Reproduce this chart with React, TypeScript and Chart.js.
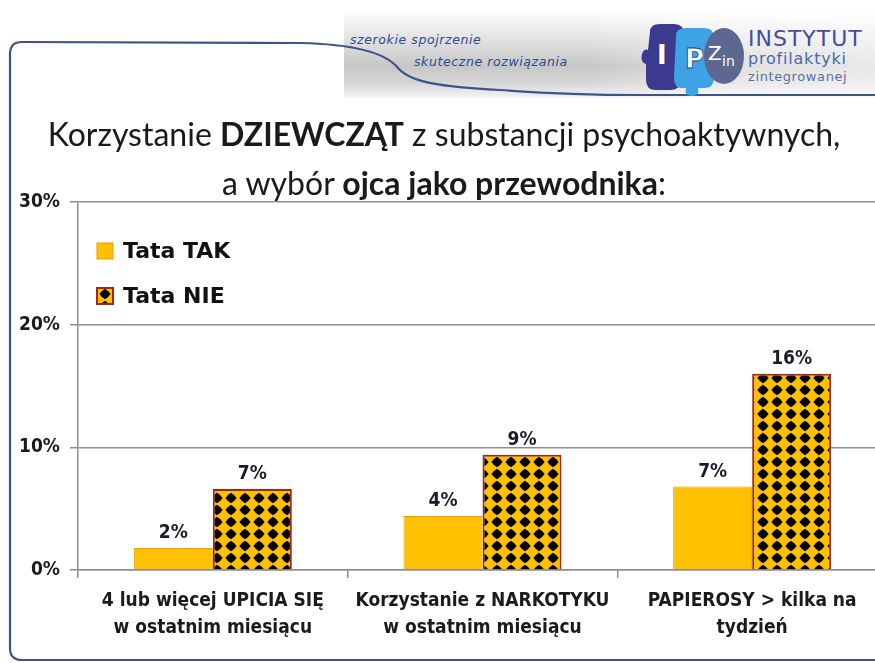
import React, { useEffect, useRef } from "react";
import { Chart, registerables } from "chart.js";

Chart.register(...registerables);

// ---- data ----
const categories: string[][] = [
  ["4 lub więcej UPICIA SIĘ", "w ostatnim miesiącu"],
  ["Korzystanie z NARKOTYKU", "w ostatnim miesiącu"],
  ["PAPIEROSY > kilka na", "tydzień"],
];
const seriesNames = ["Tata TAK", "Tata NIE"];
const tataTak = [1.8, 4.4, 6.8];
const tataNie = [6.6, 9.4, 16.0];
const yMin = 0;
const yMax = 30;
const yStep = 10;

const AXIS_FONT = '"Liberation Sans Narrow", "DejaVu Sans Condensed", sans-serif';
const LEGEND_FONT = '"DejaVu Sans", Verdana, sans-serif';
const YELLOW = "#FFC000";
const GRID = "#8e8e8e";

function makeDiamondPattern(ctx: CanvasRenderingContext2D) {
  const c = document.createElement("canvas");
  const w = 14;
  const h = 12;
  c.width = w;
  c.height = h;
  const g = c.getContext("2d")!;
  g.fillStyle = YELLOW;
  g.fillRect(0, 0, w, h);
  g.fillStyle = "#000";
  const cx = w / 2;
  const cy = h / 2;
  const rx = 5.6;
  const ry = 5.2;
  g.beginPath();
  g.moveTo(cx, cy - ry);
  g.quadraticCurveTo(cx + rx * 0.62, cy - ry * 0.62, cx + rx, cy);
  g.quadraticCurveTo(cx + rx * 0.62, cy + ry * 0.62, cx, cy + ry);
  g.quadraticCurveTo(cx - rx * 0.62, cy + ry * 0.62, cx - rx, cy);
  g.quadraticCurveTo(cx - rx * 0.62, cy - ry * 0.62, cx, cy - ry);
  g.closePath();
  g.fill();
  return ctx.createPattern(c, "repeat")!;
}

const valueLabels = {
  id: "valueLabels",
  afterDatasetsDraw(chart: any) {
    const ctx = chart.ctx as CanvasRenderingContext2D;
    chart.data.datasets.forEach((ds: any, i: number) => {
      const meta = chart.getDatasetMeta(i);
      meta.data.forEach((bar: any, j: number) => {
        const v = ds.data[j] as number;
        ctx.save();
        ctx.font = `bold 19px ${AXIS_FONT}`;
        ctx.fillStyle = "#1b1b2b";
        ctx.textAlign = "center";
        ctx.textBaseline = "middle";
        ctx.fillText(Math.round(v) + "%", bar.x, bar.y - 15);
        ctx.restore();
      });
    });
  },
};

const insideLegend = {
  id: "insideLegend",
  afterDraw(chart: any) {
    const ctx = chart.ctx as CanvasRenderingContext2D;
    const { left, top } = chart.chartArea;
    chart.data.datasets.forEach((ds: any, i: number) => {
      const bx = left + 19;
      const by = top + 41 + i * 45;
      const size = 16;
      ctx.save();
      ctx.fillStyle = ds.backgroundColor;
      ctx.fillRect(bx, by, size, size);
      ctx.strokeStyle = ds.borderColor;
      ctx.lineWidth = i === 0 ? 1 : 2;
      ctx.strokeRect(bx, by, size, size);
      ctx.font = `bold 22px ${LEGEND_FONT}`;
      ctx.fillStyle = "#111";
      ctx.textAlign = "left";
      ctx.textBaseline = "middle";
      ctx.fillText(ds.label, left + 45, by + size / 2 + 1);
      ctx.restore();
    });
  },
};

function BarChart() {
  const ref = useRef<HTMLCanvasElement | null>(null);
  useEffect(() => {
    const canvas = ref.current!;
    const ctx = canvas.getContext("2d")!;
    const pattern = makeDiamondPattern(ctx);
    const chart = new Chart(ctx, {
      type: "bar",
      data: {
        labels: categories,
        datasets: [
          {
            label: seriesNames[0],
            data: tataTak,
            backgroundColor: YELLOW,
            borderColor: "#F29A00",
            borderWidth: 1,
            categoryPercentage: 0.586,
            barPercentage: 1,
          },
          {
            label: seriesNames[1],
            data: tataNie,
            backgroundColor: pattern as any,
            borderColor: "#A3261B",
            borderWidth: 2,
            categoryPercentage: 0.586,
            barPercentage: 1,
          },
        ],
      },
      options: {
        animation: false,
        responsive: false,
        maintainAspectRatio: false,
        layout: { padding: { left: 0, top: 202, right: 13, bottom: 0 } },
        plugins: {
          legend: { display: false },
          title: { display: false },
          tooltip: { enabled: false },
        },
        scales: {
          x: {
            grid: {
              offset: true,
              drawOnChartArea: false,
              drawTicks: true,
              tickLength: 8,
              color: GRID,
              lineWidth: 1.5,
            },
            border: { color: GRID, width: 1.5 },
            ticks: {
              font: { family: AXIS_FONT, size: 19, weight: "bold", lineHeight: 1.4 },
              color: "#1b1b1b",
              padding: 10,
              maxRotation: 0,
              autoSkip: false,
            },
            afterFit: (s: any) => {
              s.height = 93;
            },
          },
          y: {
            min: yMin,
            max: yMax,
            ticks: {
              stepSize: yStep,
              callback: (v: any) => v + "%",
              font: { family: AXIS_FONT, size: 19, weight: "bold" },
              color: "#1b1b1b",
              padding: 10,
            },
            grid: { color: GRID, lineWidth: 1.5, tickLength: 8, drawTicks: true },
            border: { color: GRID, width: 1.5 },
            afterFit: (s: any) => {
              s.width = 78;
            },
          },
        },
      },
      plugins: [valueLabels, insideLegend],
    });
    return () => chart.destroy();
  }, []);
  return (
    <canvas
      ref={ref}
      width={900}
      height={663}
      style={{ position: "absolute", left: 0, top: 0, width: 900, height: 663 }}
    />
  );
}

function Logo() {
  return (
    <svg
      width={110}
      height={80}
      viewBox="0 0 110 80"
      style={{ position: "absolute", left: 640, top: 18 }}
    >
      <path
        d="M10 14 Q10 6 20 6 L34 6 Q44 6 44 16 L44 40 Q52 42 50 50 Q48 58 40 56 L40 64 Q40 72 30 72 L16 72 Q6 72 6 62 L6 46 Q0 44 2 36 Q4 30 8 32 Z"
        fill="#3B3A8E"
      />
      <text x={17} y={46} fill="#fff" fontFamily="DejaVu Sans" fontWeight="bold" fontSize={26}>I</text>
      <path
        d="M36 18 Q36 10 46 10 L64 10 Q74 10 74 20 L74 60 Q74 70 64 70 L58 70 Q60 78 52 78 Q44 78 46 70 L42 70 Q34 70 34 60 Z"
        fill="#3DA3E4"
      />
      <text x={45} y={50} fill="#fff" stroke="#1c3f78" strokeWidth={0.8} fontFamily="DejaVu Sans" fontWeight="bold" fontSize={26}>P</text>
      <ellipse cx={84} cy={38} rx={20} ry={28} fill="#5C6890" />
      <text x={68} y={42} fill="#fff" fontFamily="DejaVu Sans" fontSize={20}>Z</text>
      <text x={82} y={48} fill="#fff" fontFamily="DejaVu Sans" fontSize={14}>in</text>
    </svg>
  );
}

export default function App() {
  useEffect(() => {
    document.body.style.margin = "0";
  }, []);
  return (
    <div
      style={{
        position: "fixed",
        left: 0,
        top: 0,
        width: 875,
        height: 663,
        overflow: "hidden",
        background: "#fff",
      }}
    >
      {/* header grey band */}
      <div
        style={{
          position: "absolute",
          left: 344,
          top: 14,
          width: 540,
          height: 84,
          background:
            "linear-gradient(to bottom, #fbfbfb 0%, #e2e2e2 30%, #c6c6c6 62%, #d6d6d6 82%, #f4f4f4 100%)",
        }}
      />
      <div
        style={{
          position: "absolute",
          left: 344,
          top: 14,
          width: 540,
          height: 84,
          background:
            "linear-gradient(to right, rgba(255,255,255,0) 0%, rgba(255,255,255,0) 45%, rgba(255,255,255,0.45) 70%, rgba(255,255,255,0.6) 100%)",
        }}
      />
      {/* frame */}
      <svg width={875} height={663} style={{ position: "absolute", left: 0, top: 0 }}>
        <path
          d="M900 660 L22 660 Q10 660 10 648 L10 54 Q10 42 22 42 L300 43 C350 44 385 52 398 68 C410 82 440 87 500 90 C540 93 600 95 640 95 L900 95"
          fill="none"
          stroke="#3E5389"
          strokeWidth={2.2}
        />
      </svg>
      <div
        style={{
          position: "absolute",
          left: 350,
          top: 32,
          fontFamily: "DejaVu Sans",
          fontStyle: "italic",
          fontSize: 12.5,
          letterSpacing: 0.6,
          color: "#2B4A8C",
          whiteSpace: "nowrap",
        }}
      >
        szerokie spojrzenie
      </div>
      <div
        style={{
          position: "absolute",
          left: 414,
          top: 54,
          fontFamily: "DejaVu Sans",
          fontStyle: "italic",
          fontSize: 12.5,
          letterSpacing: 0.6,
          color: "#2B4A8C",
          whiteSpace: "nowrap",
        }}
      >
        skuteczne rozwiązania
      </div>
      <Logo />
      <div
        style={{
          position: "absolute",
          left: 748,
          top: 27,
          fontFamily: "DejaVu Sans",
          fontSize: 22,
          letterSpacing: 1,
          color: "#3F4E9F",
          whiteSpace: "nowrap",
          lineHeight: "24px",
        }}
      >
        INSTYTUT
      </div>
      <div
        style={{
          position: "absolute",
          left: 748,
          top: 50,
          fontFamily: "DejaVu Sans",
          fontSize: 16,
          letterSpacing: 0.8,
          color: "#4B68AE",
          whiteSpace: "nowrap",
          lineHeight: "18px",
        }}
      >
        profilaktyki
      </div>
      <div
        style={{
          position: "absolute",
          left: 748,
          top: 69,
          fontFamily: "DejaVu Sans",
          fontSize: 13,
          letterSpacing: 0.6,
          color: "#5A6FA6",
          whiteSpace: "nowrap",
          lineHeight: "15px",
        }}
      >
        zintegrowanej
      </div>
      <BarChart />
      {/* title */}
      <div
        style={{
          position: "absolute",
          left: 0,
          top: 109,
          width: 888,
          textAlign: "center",
          fontFamily: "Lato, 'Open Sans', sans-serif",
          fontSize: 32,
          lineHeight: "49px",
          color: "#1a1a1a",
          whiteSpace: "nowrap",
        }}
      >
        <div>
          Korzystanie <b>DZIEWCZĄT</b> z substancji psychoaktywnych,
        </div>
        <div>
          a wybór <b>ojca jako przewodnika</b>:
        </div>
      </div>
    </div>
  );
}
